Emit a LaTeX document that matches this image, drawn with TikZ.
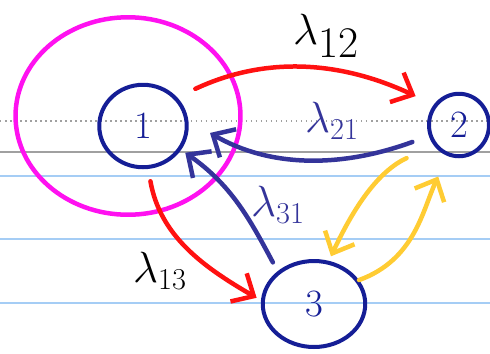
\documentclass[tikz,border=0pt]{standalone}
\usetikzlibrary{arrows.meta,shapes.geometric}
\definecolor{cred}   {HTML}{FF1111}
\definecolor{cpink}  {HTML}{FF11F0}
\definecolor{cnavy}  {HTML}{151E96}
\definecolor{cindigo}{HTML}{34349A}
\definecolor{cyellow}{HTML}{FFCC33}
\definecolor{crule}  {HTML}{A5CDF5}
\definecolor{cgrid}  {HTML}{A0A0A0}

\begin{document}
\begin{tikzpicture}[
  x=0.02cm, y=-0.02cm,
  arr/.style   = {-{Straight Barb[length=3.5mm, width=6.5mm]},
                  line width=0.9mm, line cap=round},
  state/.style = {ellipse, draw=cnavy, line width=0.8mm, text=cnavy,
                  inner sep=0pt, font=\fontsize{22}{26}\selectfont},
  rate/.style  = {font=\fontsize{24}{28}\selectfont}
]
\useasboundingbox (0,0) rectangle (490,353);

%% ── Ruled paper ───────────────────────────────────────────────────────────
\draw[cgrid, dotted, line width=0.3mm] (0,121) -- (490,121);
\draw[cgrid, line width=0.3mm] (0,152) -- (490,152);
\foreach \y in {176,239,303}
  \draw[crule, line width=0.35mm] (0,\y) -- (490,\y);

%% ── Nodes ─────────────────────────────────────────────────────────────────
\node[ellipse, draw=cpink, line width=0.9mm,
      minimum width=4.5cm, minimum height=3.95cm]          (grp) at (128,116) {};
\node[state, minimum width=1.75cm, minimum height=1.65cm]  (s1)  at (143,126) {1};
\node[state, minimum width=1.2cm,  minimum height=1.25cm]  (s2)  at (459,125) {2};
\node[state, minimum width=2.05cm, minimum height=1.72cm]  (s3)  at (314,304) {3};

%% ── Arrows ────────────────────────────────────────────────────────────────
% 1 -> 2 (over the top)
\draw[arr, cred, shorten <=4mm, shorten >=4mm]
  (s1.40) to[out=25, in=155] (s2.141);

% 2 -> 1 (underneath)
\draw[arr, cindigo, shorten <=3.5mm, shorten >=5mm]
  (s2.200) to[out=200, in=-30] (s1.7);

% 3 -> 1
\draw[arr, cindigo, shorten <=2mm, shorten >=1mm]
  (s3.138) to[out=118, in=-35] (s1.-32);

% 1 -> 3
\draw[arr, cred, shorten <=2.5mm, shorten >=1mm]
  (s1.-83) to[out=-80, in=150] (s3.176);

% 2 <-> 3
\draw[arr, cyellow, shorten <=6mm, shorten >=1mm]
  (s2.219) to[out=205, in=65] (s3.71);
\draw[arr, cyellow, shorten >=4.5mm]
  (s3.28) to[out=20, in=245] (s2.250);

%% ── Rates ─────────────────────────────────────────────────────────────────
\node[font=\fontsize{34}{40}\selectfont]  (l12) at (326,36)  {$\lambda_{12}$};
\node[rate, text=cindigo]                 (l21) at (332,121) {$\lambda_{21}$};
\node[rate, text=cindigo]                 (l31) at (278,205) {$\lambda_{31}$};
\node[rate]                               (l13) at (160,271) {$\lambda_{13}$};

\end{tikzpicture}
\end{document}
